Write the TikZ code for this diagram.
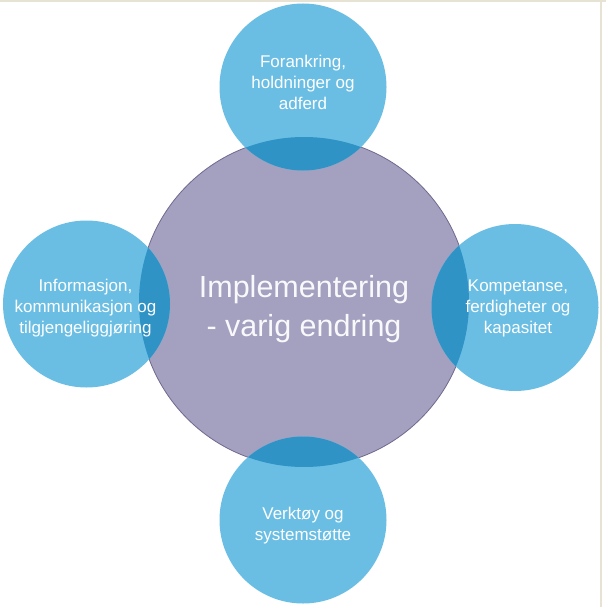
\documentclass[tikz,border=0pt]{standalone}
\usepackage{fontspec}
\setmainfont{Liberation Sans}
\definecolor{bluec}{RGB}{106,190,228}
\definecolor{lensc}{RGB}{47,147,197}
\definecolor{purplec}{RGB}{163,160,192}
\definecolor{purpleline}{RGB}{112,105,142}
\definecolor{framec}{RGB}{230,226,212}
\tikzset{
  hub/.style={circle, inner sep=0pt, minimum size=330pt, fill=purplec, draw=purpleline, line width=0.8pt},
  sat/.style={circle, inner sep=0pt, minimum size=167pt, fill=bluec},
  lens/.style={fill=lensc},
  smalltxt/.style={text=white, align=center, font=\fontsize{17pt}{21pt}\selectfont},
  bigtxt/.style={text=white!94!purplec, align=center, font=\fontsize{30.5pt}{39pt}\selectfont},
  framel/.style={draw=framec, line width=1.6pt}
}
\begin{document}
\begin{tikzpicture}[x=1pt,y=-1pt]
\useasboundingbox (0,0) rectangle (606,607);
\fill[white] (0,0) rectangle (606,607);
\draw[framel] (0,0.8) -- (606,0.8);
\draw[framel] (601,0) -- (601,607);
% shapes
\node[hub] (c) at (304,302) {};
\node[sat] (t) at (303,87) {};
\node[sat] (l) at (86.5,304) {};
\node[sat] (r) at (515,307.5) {};
\node[sat] (b) at (303,520) {};
% overlaps
\begin{scope}
  \clip (c.center) circle (165);
  \fill[lens] (t.center) circle (83.5);
  \fill[lens] (l.center) circle (83.5);
  \fill[lens] (r.center) circle (83.5);
  \fill[lens] (b.center) circle (83.5);
\end{scope}
% texts
\node[bigtxt] (ct) at ([yshift=-7pt]c.center) {Implementering\\- varig endring};
\node[smalltxt] (tt) at ([yshift=5pt]t.center) {Forankring,\\holdninger og\\adferd};
\node[smalltxt] (lt) at ([xshift=-1pt,yshift=-4pt]l.center) {Informasjon,\\kommunikasjon og\\tilgjengeliggjøring};
\node[smalltxt] (rt) at ([xshift=3pt,yshift=-1pt]r.center) {Kompetanse,\\ferdigheter og\\kapasitet};
\node[smalltxt] (bt) at ([yshift=-6pt]b.center) {Verktøy og\\systemstøtte};
\end{tikzpicture}
\end{document}
